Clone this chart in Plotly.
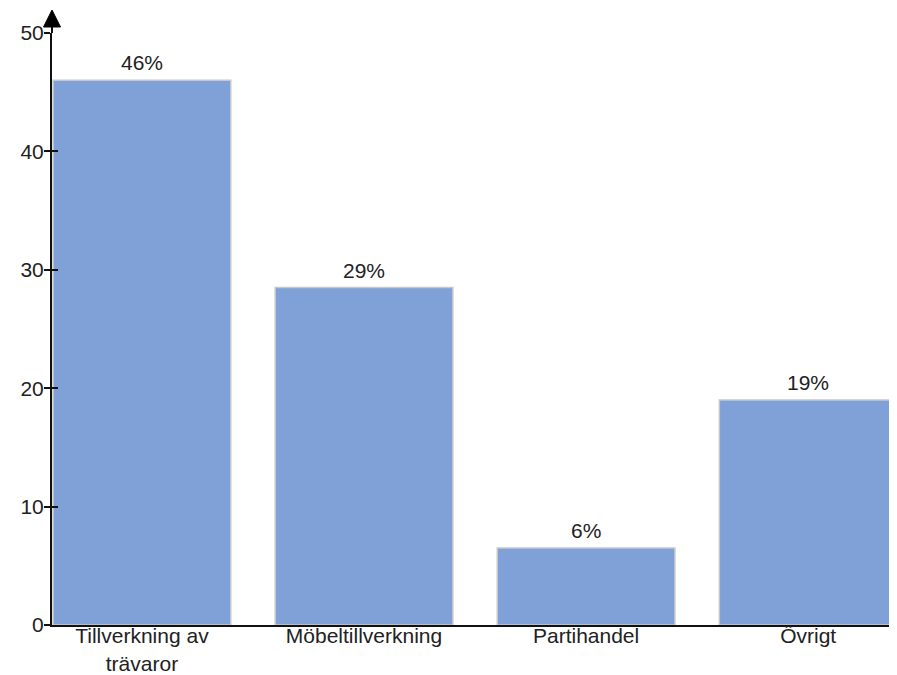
import plotly.graph_objects as go

categories = ["Tillverkning av<br>trävaror", "Möbeltillverkning", "Partihandel", "Övrigt"]
values = [46, 28.5, 6.5, 19]
value_labels = ["46%", "29%", "6%", "19%"]
y_ticks = [0, 10, 20, 30, 40, 50]

FONT = "Arial, Liberation Sans, sans-serif"
FS = 21
# page body has an 8px default margin, so the figure is 8px smaller and margins shifted
W, H = 889, 667
ML, MR, MT, MB = 44, 0, 25, 50
PW, PH = W - ML - MR, H - MT - MB

fig = go.Figure()
fig.add_trace(go.Bar(
    x=categories, y=values,
    marker=dict(color="#7fa1d7", line=dict(color="#c8c8c8", width=1.5)),
    hoverinfo="skip",
))
fig.add_trace(go.Scatter(x=categories, y=values, yaxis="y2", mode="markers",
                         marker=dict(opacity=0), showlegend=False, hoverinfo="skip"))

for c, v, t in zip(categories, values, value_labels):
    fig.add_annotation(x=c, y=v, text=t, showarrow=False, yanchor="bottom",
                       yshift=4, font=dict(family=FONT, size=FS, color="#222222"))

tip = (MT + PH - 2) / PH
base = (MT + PH - 19) / PH
hw = 8.5 / PW
fig.add_shape(type="line", xref="paper", yref="paper", x0=0, x1=0, y0=1, y1=base,
              line=dict(color="#111111", width=2))
fig.add_shape(type="path", xref="paper", yref="paper",
              path=f"M {-hw} {base} L {hw} {base} L 0 {tip} Z",
              fillcolor="#000000", line=dict(color="#000000", width=1))

fig.update_layout(
    width=W, height=H,
    margin=dict(l=ML, r=MR, t=MT, b=MB, autoexpand=False),
    paper_bgcolor="white", plot_bgcolor="white",
    showlegend=False, bargap=0.2,
    font=dict(family=FONT, size=FS, color="#222222"),
    xaxis=dict(type="category", range=[-0.405, 3.4], showline=True, linecolor="#111111",
               linewidth=2, ticks="", showgrid=False, zeroline=False, ticklabelstandoff=-9,
               tickfont=dict(family=FONT, size=FS, color="#222222"), automargin=False),
    yaxis=dict(range=[0, 50], tickvals=y_ticks, showline=True, linecolor="#111111",
               linewidth=2, ticks="outside", ticklen=6, tickwidth=2, tickcolor="#111111",
               showgrid=False, zeroline=False, automargin=False, ticklabelstandoff=-4,
               tickfont=dict(family=FONT, size=FS, color="#222222")),
    yaxis2=dict(range=[0, 50], tickvals=y_ticks, overlaying="y", side="left",
                ticks="inside", ticklen=6, tickwidth=2, tickcolor="#111111",
                showticklabels=False, showline=False, showgrid=False, zeroline=False),
)

fig.write_html("out.html")
